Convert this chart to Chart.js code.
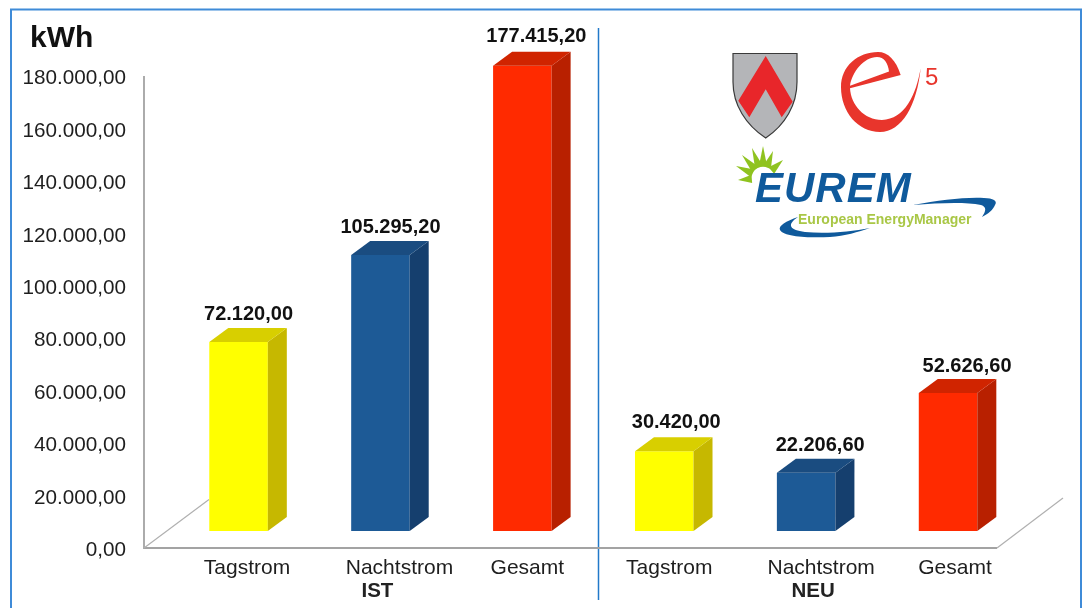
<!DOCTYPE html>
<html lang="de">
<head>
  <meta charset="UTF-8">
  <title>Stromverbrauch IST / NEU</title>
  <style>
    html, body { margin: 0; padding: 0; background: #fff; overflow: hidden; }
    canvas { display: block; }
  </style>
</head>
<body>
  <canvas id="chart" width="1083" height="608"></canvas>

  <script src="https://cdn.jsdelivr.net/npm/chart.js@4"></script>
  <script>
    const categories = ['Tagstrom', 'Nachtstrom', 'Gesamt', 'Tagstrom', 'Nachtstrom', 'Gesamt'];
    const values = [72120.00, 105295.20, 177415.20, 30420.00, 22206.60, 52626.60];
    const groups = ['IST', 'NEU'];
    const yMax = 180000;
    const yStep = 20000;

    const frontColors = ['#ffff00', '#1d5a96', '#ff2a00', '#ffff00', '#1d5a96', '#ff2a00'];
    const sideColors = ['#c6b800', '#153f6e', '#b82000', '#c6b800', '#153f6e', '#b82000'];
    const topColors = ['#d8cf00', '#1a4c80', '#d02400', '#d8cf00', '#1a4c80', '#d02400'];

    // the original labels are not quite centred under the bars
    const labelNudge = [8.5, 19, 5, 5, 15, 7];
    const valueNudge = [10, 10, 14, 12, 14, 19];
    const valueGap = [27, 27, 29, 29, 27, 27];
    const groupNudge = [-3, 7];
    const yLabelNudge = 2.5;

    const depthX = 19;
    const depthY = -14;
    const lift = 17; // bars stand on the floor, not on the front edge
    const font = 'Liberation Sans, Arial, sans-serif';

    const fmt = v => v.toLocaleString('de-DE', { minimumFractionDigits: 2, maximumFractionDigits: 2 });

    function line(ctx, pts, color, width) {
      ctx.beginPath();
      pts.forEach((p, i) => i ? ctx.lineTo(p[0], p[1]) : ctx.moveTo(p[0], p[1]));
      ctx.strokeStyle = color;
      ctx.lineWidth = width;
      ctx.stroke();
    }

    function face(ctx, pts, color) {
      ctx.beginPath();
      pts.forEach((p, i) => i ? ctx.lineTo(p[0], p[1]) : ctx.moveTo(p[0], p[1]));
      ctx.closePath();
      ctx.fillStyle = color;
      ctx.fill();
    }

    function drawLogos(ctx) {
      // shield
      const shield = new Path2D('M733 53.5 H797 V82 C797 105 785 125 765.7 138 C746 125 733 105 733 82 Z');
      ctx.fillStyle = '#b4b5b8';
      ctx.fill(shield);
      face(ctx, [[765.7, 56], [792.7, 101.7], [781.7, 117.3], [765.7, 89.3], [749.3, 117.3], [738.3, 100.7]], '#e8262a');
      ctx.strokeStyle = '#3a3a3a';
      ctx.lineWidth = 1.2;
      ctx.stroke(shield);

      // e5
      const e = new Path2D('M900.7 75 C896 60 888 52 878 52 C858 52 841 66 841 87 C841 112 858 132 880 132 ' +
        'C902 132 917 105 920.7 68 C916 95 905 119 882 120 C864 120 851 105 850 88.3 Z ' +
        'M850 85.7 C852 72 864 57 877 57 C884 57 888 63 889 71.5 Z');
      ctx.fillStyle = '#e8352c';
      ctx.fill(e, 'evenodd');
      ctx.font = '24px ' + font;
      ctx.textAlign = 'left';
      ctx.textBaseline = 'alphabetic';
      ctx.fillText('5', 925, 85);

      // EUREM sun
      const rayTips = [[738, 180], [736, 166], [742, 155], [752, 148], [763, 146], [773, 151], [783, 160]];
      rayTips.forEach(t => {
        const cx = 763, cy = 178;
        const a = Math.atan2(t[1] - cy, t[0] - cx);
        const r = 12, s = 0.36;
        face(ctx, [t, [cx + r * Math.cos(a - s), cy + r * Math.sin(a - s)], [cx + r * Math.cos(a + s), cy + r * Math.sin(a + s)]], '#8fc31f');
      });

      // EUREM wordmark
      ctx.fillStyle = '#0f5a9c';
      ctx.font = 'italic bold 42px ' + font;
      ctx.letterSpacing = '1px';
      ctx.fillText('EUREM', 755, 202);
      ctx.letterSpacing = '0px';
      ctx.fill(new Path2D('M913 205 C940 200 965 197 984 198 C993 198 998 201 995 205 C993 210 988 214 982 217 C986 211 987 207 981 205 C965 202 940 203 913 205 Z'));
      ctx.fill(new Path2D('M798 217 C786 221 778 226 780 230 C784 237 810 238 830 237 C845 236 858 232 870 228 C850 232 825 234 805 232 C790 230 786 225 798 217 Z'));
      ctx.fillStyle = '#a9c746';
      ctx.font = 'bold 14px ' + font;
      ctx.fillText('European EnergyManager', 798, 224, 178);
    }

    const decor = {
      id: 'decor',
      afterUpdate(chart) {
        // per-label shift, the axis only offers one value for all ticks
        chart.scales.x.getLabelItems(chart.chartArea).forEach((item, i) => {
          item.options.translation[0] += labelNudge[i];
        });
        chart.scales.y.getLabelItems(chart.chartArea).forEach(item => {
          item.options.translation[1] += yLabelNudge;
        });
      },
      beforeDraw(chart) {
        const { ctx, scales: { y } } = chart;
        const y0 = y.getPixelForValue(0);
        ctx.save();
        line(ctx, [[11, 608], [11, 9.5], [1081, 9.5], [1081, 608]], '#3f8bd8', 2);
        line(ctx, [[598.5, 28], [598.5, 600]], '#2279c9', 1.5);
        line(ctx, [[144, y.getPixelForValue(yMax)], [144, y0], [997, y0]], '#a3a3a3', 1.8);
        line(ctx, [[144, y0], [209, y0 - 48.5]], '#b0b0b0', 1.2);
        line(ctx, [[997, y0], [1063, y0 - 50]], '#b0b0b0', 1.2);
        drawLogos(ctx);
        ctx.restore();
      },
      beforeDatasetsDraw(chart) {
        chart.ctx.save();
        chart.ctx.translate(0, -lift);
      },
      afterDatasetsDraw(chart) {
        const { ctx, scales: { x } } = chart;
        chart.getDatasetMeta(0).data.forEach((bar, i) => {
          const { x: cx, y: top, base, width } = bar.getProps(['x', 'y', 'base', 'width'], true);
          const l = cx - width / 2;
          const r = cx + width / 2;
          face(ctx, [[r, top], [r + depthX, top + depthY], [r + depthX, base + depthY], [r, base]], sideColors[i]);
          face(ctx, [[l, top], [l + depthX, top + depthY], [r + depthX, top + depthY], [r, top]], topColors[i]);

          ctx.fillStyle = '#111';
          ctx.font = 'bold 20px ' + font;
          ctx.textAlign = 'center';
          ctx.textBaseline = 'middle';
          ctx.fillText(fmt(values[i]), cx + valueNudge[i], top - valueGap[i]);
        });
        ctx.restore();

        // kWh and the IST / NEU group names
        ctx.save();
        ctx.fillStyle = '#111';
        ctx.textBaseline = 'alphabetic';
        ctx.textAlign = 'left';
        ctx.font = 'bold 30px ' + font;
        ctx.fillText('kWh', 30, 47);
        ctx.textAlign = 'center';
        ctx.textBaseline = 'middle';
        ctx.font = 'bold 20.5px ' + font;
        ctx.fillStyle = '#222';
        groups.forEach((g, i) => {
          ctx.fillText(g, x.getPixelForTick(i * 3 + 1) + groupNudge[i], 591);
        });
        ctx.restore();
      }
    };

    new Chart(document.getElementById('chart').getContext('2d'), {
      type: 'bar',
      data: {
        labels: categories,
        datasets: [{
          data: values,
          backgroundColor: frontColors,
          borderWidth: 0,
          barPercentage: 0.4125,
          categoryPercentage: 1,
          clip: false
        }]
      },
      options: {
        responsive: false,
        animation: false,
        events: [],
        layout: { padding: { left: 0, right: 64, top: 76, bottom: 0 } },
        plugins: { legend: { display: false }, tooltip: { enabled: false } },
        scales: {
          x: {
            border: { display: false },
            grid: { display: false, drawTicks: false },
            afterFit: s => { s.height = 60; },
            ticks: {
              autoSkip: false,
              maxRotation: 0,
              padding: 8,
              color: '#1e1e1e',
              font: { family: font, size: 21 }
            }
          },
          y: {
            min: 0,
            max: yMax,
            border: { display: false },
            grid: { display: false, drawTicks: false },
            afterFit: s => { s.width = 167.6; },
            ticks: {
              stepSize: yStep,
              padding: 41.6,
              color: '#1e1e1e',
              font: { family: font, size: 20.7 },
              callback: v => fmt(v)
            }
          }
        }
      },
      plugins: [decor]
    });
  </script>
</body>
</html>
